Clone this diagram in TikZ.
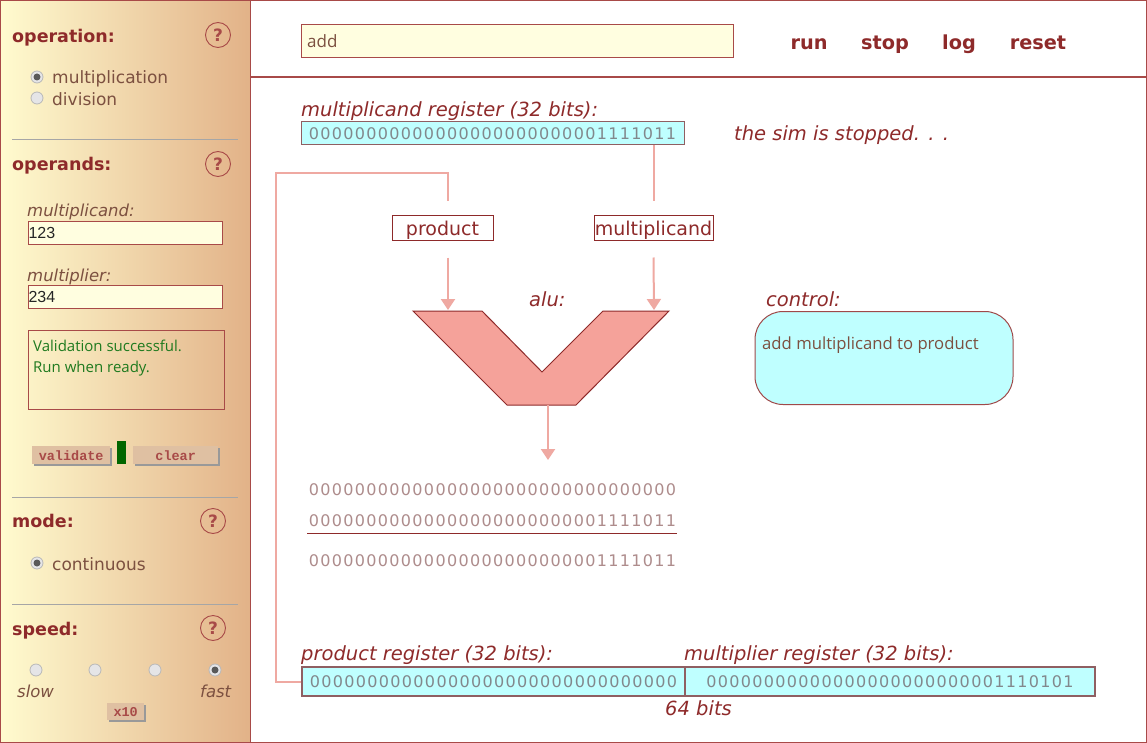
\documentclass[tikz,border=0pt]{standalone}
\usepackage{fontspec}
\usepackage{xcolor}
\usetikzlibrary{arrows.meta,shapes.geometric}
\setsansfont{DejaVu Sans}
\newfontfamily\bitface[LetterSpace=8.4]{DejaVu Sans}
\newfontfamily\noteface{Open Sans}
\newfontfamily\inputface{Liberation Sans}
\newfontfamily\buttonface{Liberation Mono}
\definecolor{simRed}{HTML}{8E2A2A}
\definecolor{simEdge}{HTML}{A84A48}
\definecolor{simMuted}{HTML}{7C5040}
\definecolor{simLink}{HTML}{EFA9A2}
\definecolor{simAlu}{HTML}{F5A29A}
\definecolor{simCyan}{HTML}{BFFFFF}
\definecolor{simCream}{HTML}{FFFEE0}
\definecolor{simBit}{HTML}{82888C}
\definecolor{simBitPale}{HTML}{AE8C8C}
\definecolor{simGreen}{HTML}{1F7A1F}
\definecolor{simRegEdge}{HTML}{8F5F62}
\definecolor{simButton}{HTML}{DFC0A2}
\definecolor{sideLeft}{HTML}{FFFBCF}
\definecolor{sideMid}{HTML}{F7E3B3}
\definecolor{sideRight}{HTML}{E2B288}
\tikzset{
  >=Latex,
  font=\sffamily,
  sideheading/.style={
    anchor=base west,
    inner sep=0pt,
    text=simRed,
    font=\fontsize{17.5}{18}\selectfont\sffamily\bfseries
  },
  helpmark/.style={
    circle,
    draw=simEdge,
    line width=0.9pt,
    minimum size=25pt,
    inner sep=0pt,
    text=simEdge,
    font=\fontsize{17}{18}\selectfont\sffamily\bfseries
  },
  radio/.style={
    circle,
    draw=black!28,
    fill=blue!6!black!10,
    line width=0.8pt,
    minimum size=12pt,
    inner sep=0pt
  },
  radiotext/.style={
    anchor=base west,
    inner sep=0pt,
    text=simMuted,
    font=\fontsize{17}{18}\selectfont\sffamily
  },
  fieldlab/.style={
    anchor=base west,
    inner sep=0pt,
    text=simMuted,
    font=\fontsize{16.5}{18}\selectfont\sffamily\itshape
  },
  inputbox/.style={
    anchor=north west,
    draw=simEdge,
    fill=simCream,
    line width=1pt,
    inner sep=0pt,
    text width=194pt,
    minimum height=23pt,
    text=black!85,
    align=left,
    font=\fontsize{16}{18}\selectfont\inputface
  },
  sidebutton/.style={
    draw=none,
    fill=simButton,
    inner sep=0pt,
    text=simEdge,
    font=\fontsize{13.5}{15}\selectfont\buttonface\bfseries
  },
  regbox/.style={
    draw=simRegEdge,
    fill=simCyan,
    line width=1.2pt,
    inner sep=0pt,
    minimum height=23pt,
    text=simBit,
    font=\fontsize{16}{17}\selectfont\bitface
  },
  bitrow/.style={
    inner sep=0pt,
    text=simBitPale,
    font=\fontsize{16}{17}\selectfont\bitface
  },
  reglab/.style={
    anchor=base west,
    inner sep=0pt,
    text=simRed,
    font=\fontsize{19.5}{20}\selectfont\sffamily\itshape
  },
  buslab/.style={
    draw=simRed,
    fill=white,
    line width=1pt,
    inner sep=0pt,
    minimum height=24pt,
    text depth=0pt,
    text=simRed,
    font=\fontsize{19}{20}\selectfont\sffamily
  },
  topcmd/.style={
    anchor=base,
    inner sep=0pt,
    text=simRed,
    font=\fontsize{19.3}{22}\selectfont\sffamily\bfseries
  },
  link/.style={
    draw=simLink,
    line width=2pt
  },
  linkarrow/.style={
    -{Triangle[length=11pt,width=14pt]},
    draw=simLink,
    line width=2pt
  }
}
\begin{document}
\begin{tikzpicture}[x=1pt,y=-1pt]
\useasboundingbox (0,0) rectangle (1147,743);

% page frame and the tinted control column
\fill[white] (0,0) rectangle (1147,743);
\shade[left color=sideLeft,middle color=sideMid,right color=sideRight] (0,0) rectangle (250,743);
\draw[simEdge,line width=1.4pt] (0.7,0.7) rectangle (1146.3,742.3);
\draw[simEdge,line width=1.4pt] (250.5,0) -- (250.5,743);
\draw[simEdge,line width=1.2pt] (250.5,77) -- (1147,77);

\draw[black!35,line width=1pt] (12,140) -- (238,140);
\draw[black!35,line width=1pt] (12,497) -- (238,497);
\draw[black!35,line width=1pt] (12,604) -- (238,604);

% operation
\node[sideheading] (operationhead) at (12,43) {operation:};
\node[helpmark] (operationhelp) at (218,35) {?};
\node[radio] (multradio) at (37,77) {};
\fill[black!65] (multradio) circle (3.5);
\node[radiotext] (multtext) at (52,84) {multiplication};
\node[radio] (divradio) at (37,98) {};
\node[radiotext] (divtext) at (52,106) {division};

% operands
\node[sideheading] (operandshead) at (12,171) {operands:};
\node[helpmark] (operandshelp) at (218,164) {?};
\node[fieldlab] (mcandlab) at (27,217) {multiplicand:};
\node[inputbox] (mcandinput) at (28,221) {123};
\node[fieldlab] (mplierlab) at (27,281) {multiplier:};
\node[inputbox] (mplierinput) at (28,285) {234};

\node[anchor=north west,draw=simEdge,line width=1pt,minimum width=196pt,minimum height=79pt,inner sep=0pt] (statusbox) at (27.5,330) {};
\node[anchor=base west,inner sep=0pt,text=simGreen,font=\fontsize{15}{21}\selectfont\noteface] (statusone) at (33,351) {Validation successful.};
\node[anchor=base west,inner sep=0pt,text=simGreen,font=\fontsize{15}{21}\selectfont\noteface] (statustwo) at (33,372) {Run when ready.};

\fill[black!40] (34,448) rectangle (112,466);
\node[sidebutton,anchor=north west,minimum width=78pt,minimum height=18pt] (validatebtn) at (32,446) {validate};
\fill[green!40!black] (117,441) rectangle (126,464);
\fill[black!40] (135,448) rectangle (220,466);
\node[sidebutton,anchor=north west,minimum width=85pt,minimum height=18pt] (clearbtn) at (133,446) {clear};

% mode
\node[sideheading] (modehead) at (12,527) {mode:};
\node[helpmark] (modehelp) at (213,521) {?};
\node[radio] (contradio) at (37,563) {};
\fill[black!65] (contradio) circle (3.5);
\node[radiotext] (conttext) at (52,570) {continuous};

% speed
\node[sideheading] (speedhead) at (12,635) {speed:};
\node[helpmark] (speedhelp) at (213,628) {?};
\node[radio] (speedone) at (36,670) {};
\node[radio] (speedtwo) at (95,670) {};
\node[radio] (speedthree) at (155,670) {};
\node[radio] (speedfour) at (215,670) {};
\fill[black!65] (speedfour) circle (3.5);
\node[fieldlab] (slowlab) at (17,697) {slow};
\node[fieldlab] (fastlab) at (200,697) {fast};
\fill[black!40] (109,705) rectangle (146,722);
\node[sidebutton,anchor=north west,minimum width=37pt,minimum height=17pt] (xtenbtn) at (107,703) {x10};

% top bar
\node[anchor=north west,draw=simEdge,fill=simCream,line width=1pt,text width=432pt,minimum height=33pt,inner sep=0pt,text=simMuted,align=left,font=\fontsize{17}{19}\selectfont\noteface] (cmdinput) at (301,24.5) {\,\,add};
\node[topcmd] (runcmd) at (809,49.5) {run};
\node[topcmd] (stopcmd) at (885,49.5) {stop};
\node[topcmd] (logcmd) at (959,49.5) {log};
\node[topcmd] (resetcmd) at (1038,49.5) {reset};

% registers
\node[reglab] (mcandreglab) at (301,117) {multiplicand register (32 bits):};
\node[regbox,minimum width=383pt,line width=1pt] (mcandreg) at (492.5,133.5) {00000000000000000000000001111011};
\node[reglab] (simstate) at (734,141) {the sim is stopped. . .};

\node[buslab,minimum width=101pt] (productbox) at (442.5,228) {product};
\node[buslab,minimum width=119pt] (mcandbox) at (653.5,228) {multiplicand};

% alu
\draw[fill=simAlu,draw=simRed,line width=1pt] (413,311) -- (482,311) -- (542,372) -- (603,311) -- (669,311) -- (576,405) -- (507,405) -- cycle;
\coordinate (aluleft) at (448,310);
\coordinate (aluright) at (654,310);
\coordinate (aluout) at (548,405);
\coordinate (aluend) at (548,460);
\node[reglab] (alulab) at (529,306) {alu:};

\node[reglab] (controllab) at (766,306) {control:};
\node[anchor=north west,draw=simRed!85,fill=simCyan,line width=1pt,rounded corners=28pt,minimum width=258pt,minimum height=93pt,inner sep=0pt] (controlbox) at (754.5,311) {};
\node[anchor=base west,inner sep=0pt,text=simMuted,font=\fontsize{16.7}{18}\selectfont\noteface] (controltext) at (762,349) {add multiplicand to product};

% adder rows
\node[bitrow] (addtop) at (492.5,490) {00000000000000000000000000000000};
\node[bitrow] (addmid) at (492.5,521) {00000000000000000000000001111011};
\draw[simRed,line width=1pt] (307,533.5) -- (677,533.5);
\node[bitrow] (addsum) at (492.5,561) {00000000000000000000000001111011};

\node[reglab] (productreglab) at (301,660) {product register (32 bits):};
\node[reglab] (mplierreglab) at (684,660) {multiplier register (32 bits):};
\node[regbox,minimum width=383pt,minimum height=29pt] (productreg) at (493.5,681.5) {00000000000000000000000000000000};
\node[regbox,minimum width=410pt,minimum height=29pt] (mplierreg) at (890,681.5) {00000000000000000000000001110101};
\node[reglab] (bitslab) at (665,715) {64 bits};

% connectors
\draw[link] (productreg.west) -- (276,681.5) -- (276,173) -- (448,173) -- ([xshift=5.5pt,yshift=14pt]productbox.north);
\draw[link] (mcandreg.south -| mcandbox.north) -- ([yshift=14pt]mcandbox.north);
\draw[linkarrow] ([xshift=5.5pt,yshift=-17pt]productbox.south) -- (aluleft);
\draw[linkarrow] ([yshift=-17pt]mcandbox.south) -- (aluright);
\draw[linkarrow] (aluout) -- (aluend);

\end{tikzpicture}
\end{document}
